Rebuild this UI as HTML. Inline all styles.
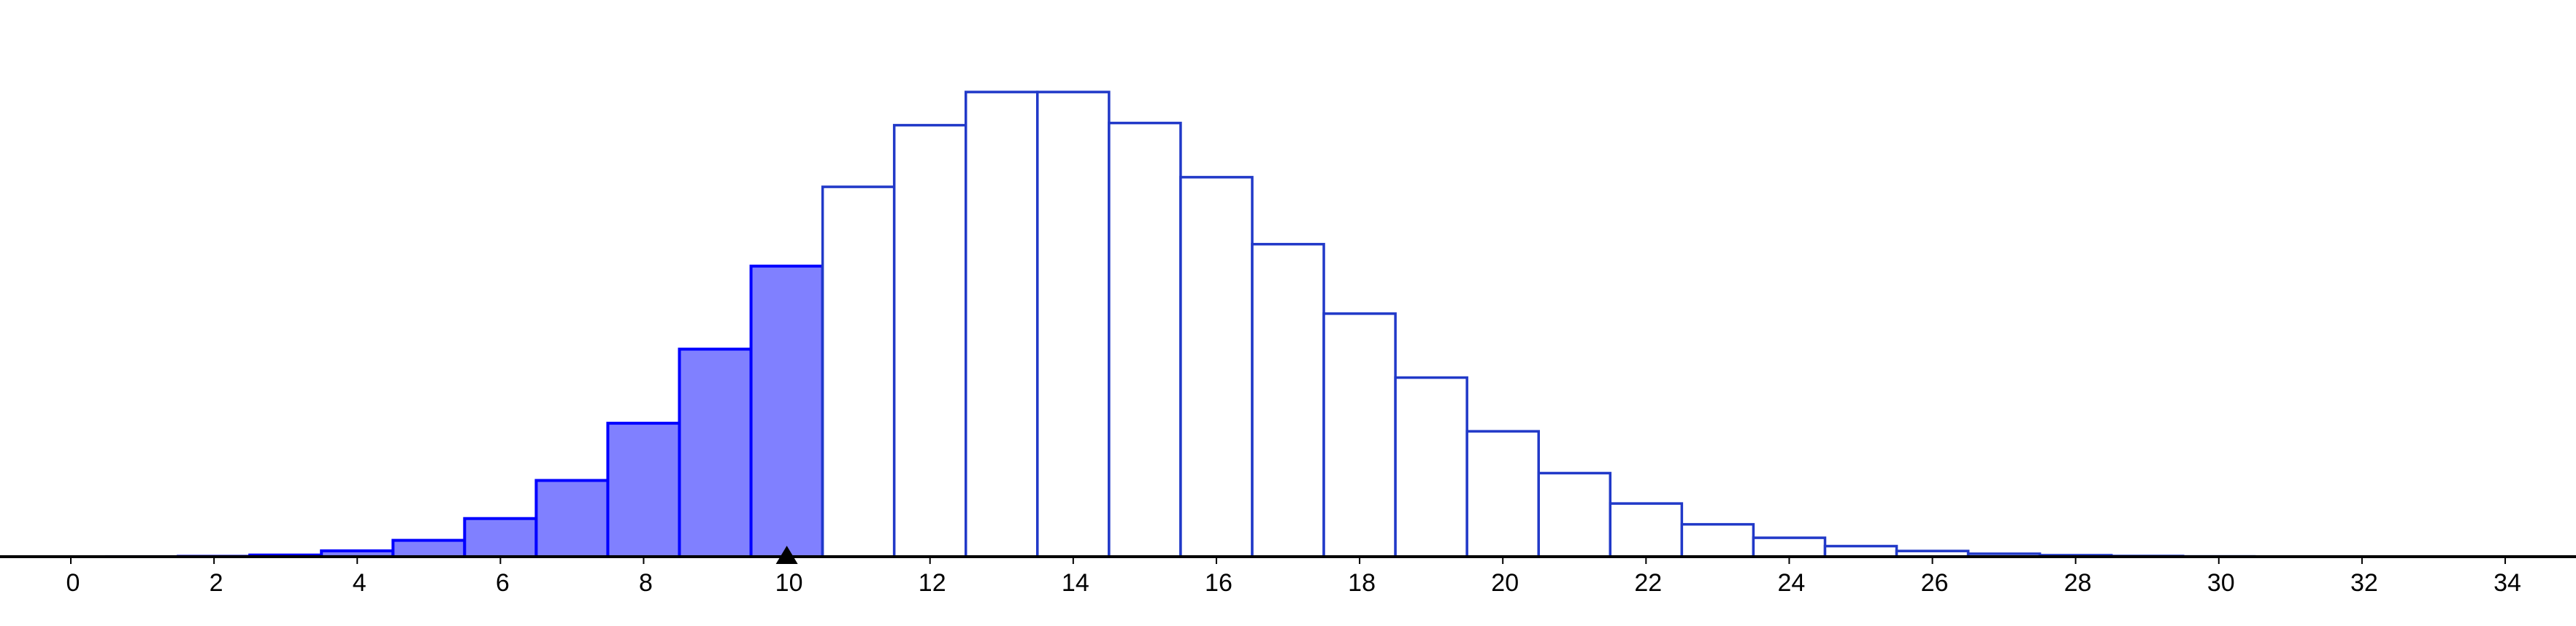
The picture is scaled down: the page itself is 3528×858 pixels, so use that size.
<!DOCTYPE html>
<html><head><meta charset="utf-8"><style>
html,body{margin:0;padding:0;background:#fff;}
svg{display:block;}
text{font-family:"Liberation Sans",sans-serif;font-size:34px;fill:#000;}
</style></head>
<body>
<svg id="chart" width="3528" height="858" viewBox="0 0 3528 858" xmlns="http://www.w3.org/2000/svg">
<g id="bars"></g>
<g id="axis"></g>
</svg>
<script>
const categories = [0,1,2,3,4,5,6,7,8,9,10,11,12,13,14,15,16,17,18,19,20,21,22,23,24,25,26,27,28,29,30,31,32,33,34];
const probabilities = [0.0000008,0.0000116,0.0000815,0.00038,0.00133,0.00373,0.0087,0.01739,0.03044,0.04734,0.06628,0.08436,0.09842,0.10599,0.10599,0.09892,0.08656,0.07128,0.05544,0.04085,0.0286,0.01906,0.01213,0.00738,0.00431,0.00241,0.0013,0.00067,0.00034,0.00016,0.00007,0.00003,0.00001,0.000006,0.000003];
const highlightMax = [10];
const tickLabels = ["0","2","4","6","8","10","12","14","16","18","20","22","24","26","28","30","32","34"];
const tickValues = [0,2,4,6,8,10,12,14,16,18,20,22,24,26,28,30,32,34];
const markerValue = [10];

const NS = "http://www.w3.org/2000/svg";
const X0 = 97, UNIT = 98.06, AXIS_Y = 763, YSCALE = 6009;
function xs(v){ return X0 + v*UNIT; }
function ys(p){ return AXIS_Y - p*YSCALE; }

const barsG = document.getElementById('bars');
categories.forEach((k,i)=>{
  const r = document.createElementNS(NS,'rect');
  const x1 = xs(k-0.5), x2 = xs(k+0.5), y = ys(probabilities[i]);
  r.setAttribute('x', x1); r.setAttribute('y', y);
  r.setAttribute('width', x2-x1); r.setAttribute('height', AXIS_Y-y);
  const hi = k <= highlightMax[0];
  r.setAttribute('fill', hi ? '#8080ff' : '#ffffff');
  r.setAttribute('stroke', hi ? '#0000ff' : '#2139c8');
  r.setAttribute('stroke-width', hi ? 4 : 3.5);
  
  
  barsG.appendChild(r);
});

const axisG = document.getElementById('axis');
const line = document.createElementNS(NS,'line');
line.setAttribute('x1',0); line.setAttribute('x2',3528);
line.setAttribute('y1',AXIS_Y); line.setAttribute('y2',AXIS_Y);
line.setAttribute('stroke','#000'); line.setAttribute('stroke-width',4);


axisG.appendChild(line);

tickValues.forEach((v,i)=>{
  const t = document.createElementNS(NS,'line');
  t.setAttribute('x1',xs(v)); t.setAttribute('x2',xs(v));
  t.setAttribute('y1',AXIS_Y); t.setAttribute('y2',AXIS_Y+10);
  t.setAttribute('stroke','#000'); t.setAttribute('stroke-width',2);
  
  
  axisG.appendChild(t);
  const tx = document.createElementNS(NS,'text');
  tx.setAttribute('x',xs(v)+3); tx.setAttribute('y',810);
  tx.setAttribute('text-anchor','middle');
  tx.textContent = tickLabels[i];
  
  
  axisG.appendChild(tx);
});

const m = xs(markerValue[0]);
const tri = document.createElementNS(NS,'polygon');
tri.setAttribute('points', `${m},748 ${m-15},773 ${m+15},773`);
tri.setAttribute('fill','#000');


axisG.appendChild(tri);
</script>
</body></html>
